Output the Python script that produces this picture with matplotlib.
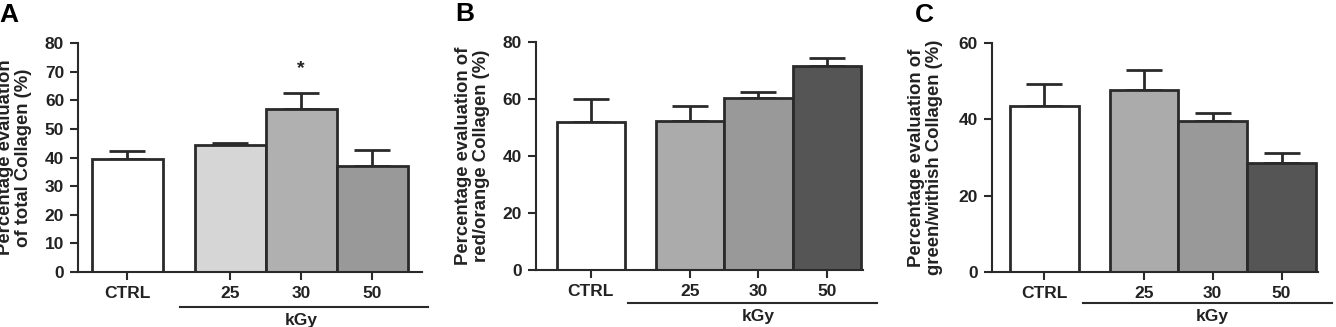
import matplotlib
matplotlib.use("Agg")
import matplotlib.pyplot as plt
import matplotlib.transforms as mtransforms

plt.rcParams['font.family'] = ['Liberation Sans', 'DejaVu Sans']
plt.rcParams['font.weight'] = 'bold'

# --- data ---
groups = ['CTRL', '25', '30', '50']
positions = [0, 1.45, 2.45, 3.45]

total_mean = [39.5, 44.5, 57.0, 37.0]
total_err = [2.7, 0.7, 5.5, 5.8]

red_mean = [52.0, 52.4, 60.5, 71.6]
red_err = [8.1, 5.2, 2.0, 2.9]

green_mean = [43.4, 47.7, 39.7, 28.5]
green_err = [5.9, 5.3, 1.9, 2.8]

colors_a = ['white', '#d6d6d6', '#b0b0b0', '#999999']
colors_bc = ['white', '#ababab', '#999999', '#555555']

EDGE = '#2a2a2a'
TXT = '#222222'


def draw_panel(ax, means, errs, colors, ymax, yticks, ylabel, letter,
               xlim, kgy_line, kgy_y, letter_x, label_x):
    ax.bar(positions, means, width=1.0, color=colors, edgecolor=EDGE,
           linewidth=2.0, zorder=2)
    ax.errorbar(positions, means, yerr=[[0] * len(errs), errs], fmt='none',
                ecolor=EDGE, elinewidth=2.0, capsize=13, capthick=2.0, zorder=1)
    ax.set_xlim(*xlim)
    ax.set_ylim(0, ymax)
    ax.set_yticks(yticks)
    ax.set_xticks(positions)
    ax.set_xticklabels(groups)
    for side in ['top', 'right']:
        ax.spines[side].set_visible(False)
    for side in ['left', 'bottom']:
        ax.spines[side].set_linewidth(1.5)
        ax.spines[side].set_color(EDGE)
    ax.tick_params(axis='both', direction='out', length=6, width=1.5,
                   color=EDGE, labelsize=12.5, labelcolor=TXT)
    ax.tick_params(axis='x', pad=4)
    ax.tick_params(axis='y', pad=4)
    ax.set_ylabel(ylabel, fontsize=13.3, fontweight='bold', color=TXT,
                  linespacing=1.05)
    ax.yaxis.set_label_coords(label_x, 0.5)

    # kGy bracket under the irradiated groups
    trans = mtransforms.blended_transform_factory(ax.transData, ax.transAxes)
    ax.plot(kgy_line, [kgy_y, kgy_y], color=EDGE, lw=1.5, transform=trans,
            clip_on=False)
    ax.text(positions[2], kgy_y - 0.025, 'kGy', transform=trans, ha='center',
            va='top', fontsize=12.5, fontweight='bold', color=TXT)

    ax.text(letter_x, 1.125, letter, transform=ax.transAxes, fontsize=19,
            fontweight='bold', ha='left', va='center', color='black')


fig = plt.figure(figsize=(13.36, 3.27), dpi=100)

ax_a = fig.add_axes([0.0584, 0.168, 0.2575, 0.700])
ax_b = fig.add_axes([0.4012, 0.174, 0.2448, 0.697])
ax_c = fig.add_axes([0.7425, 0.168, 0.2440, 0.700])

draw_panel(ax_a, total_mean, total_err, colors_a, 80, range(0, 81, 10),
           'Percentage evaluation\nof total Collagen (%)', 'A',
           (-0.69, 4.15), (0.75, 4.24), -0.153, -0.228, -0.134)
ax_a.text(positions[2], 71, '*', ha='center', va='center', fontsize=14,
          fontweight='bold', color=TXT)

draw_panel(ax_b, red_mean, red_err, colors_bc, 80, range(0, 81, 20),
           'Percentage evaluation of\nred/orange Collagen (%)', 'B',
           (-0.80, 3.98), (0.55, 4.19), -0.145, -0.248, -0.141)

draw_panel(ax_c, green_mean, green_err, colors_bc, 60, range(0, 61, 20),
           'Percentage evaluation of\ngreen/withish Collagen (%)', 'C',
           (-0.76, 3.98), (0.57, 4.18), -0.135, -0.238, -0.151)

fig.savefig('out.png', dpi=100)
